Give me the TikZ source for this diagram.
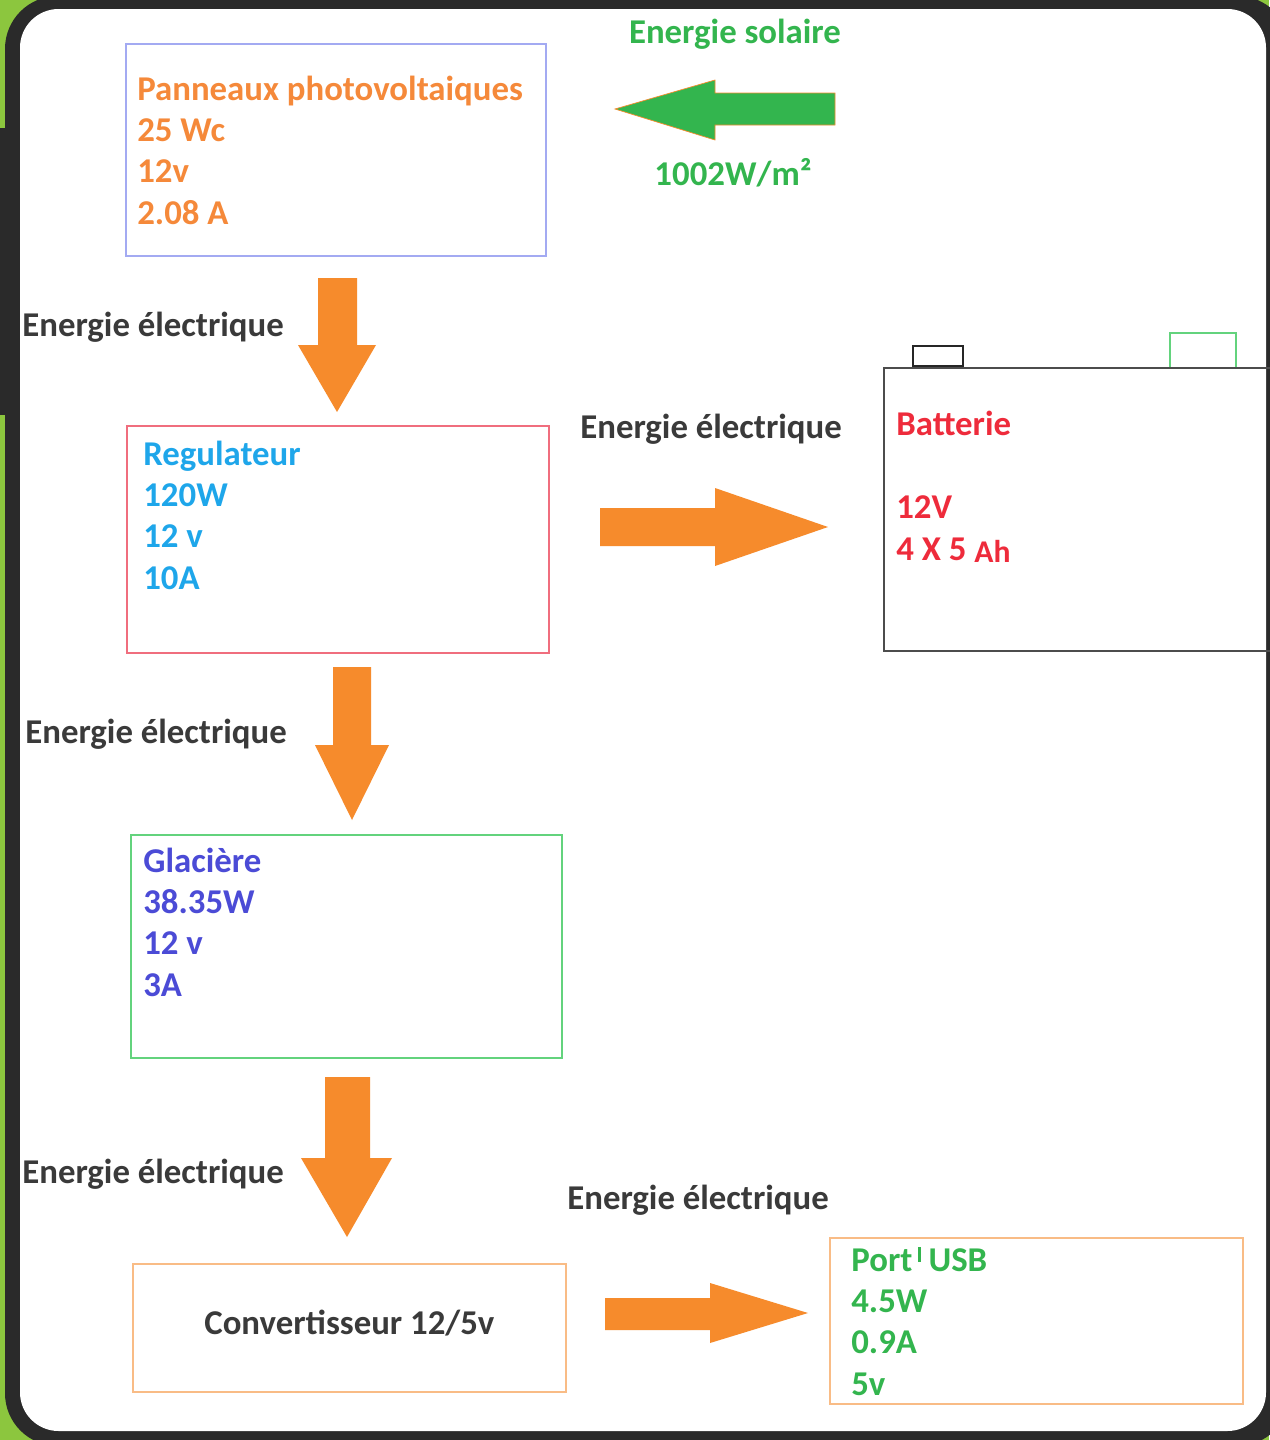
\documentclass[tikz,border=0pt]{standalone}
\usepackage{fontspec}
\setmainfont{Carlito}
\definecolor{fond}{HTML}{8CC63E}
\definecolor{cadre}{HTML}{2A2A2A}
\definecolor{solvert}{HTML}{33B54E}
\definecolor{flecheorange}{HTML}{F68B2C}
\definecolor{txtorange}{HTML}{F5893A}
\definecolor{txtcyan}{HTML}{1EA6EA}
\definecolor{txtbleu}{HTML}{4B4BD6}
\definecolor{txtrouge}{HTML}{EE2B3B}
\definecolor{txtgris}{HTML}{3A3A3A}
\definecolor{bordlavande}{HTML}{A3AAF2}
\definecolor{bordrose}{HTML}{F06E7E}
\definecolor{bordvert}{HTML}{63D37D}
\definecolor{bordorange}{HTML}{F9BC86}
\tikzset{
  boite/.style={draw, line width=1.1pt, rectangle, anchor=north west, inner sep=0pt},
  texte/.style={font=\fontsize{19.8}{23.4}\selectfont\bfseries, inner sep=0pt, align=left, anchor=base west},
  energie/.style={texte, text=txtgris},
  fleche/.style={fill=flecheorange, draw=none}
}
\begin{document}
\begin{tikzpicture}[x=0.02cm, y=-0.02cm]
  \useasboundingbox (0,0) rectangle (1269,1440);
  % 1. cadre de fond
  \fill[fond] (0,0) rectangle (1269,1440);
  \fill[cadre] (0,128) rectangle (6,415);
  \fill[cadre, rounded corners=30pt] (5,-4) rectangle (1290,1446);
  \fill[white, rounded corners=22pt] (20,9) rectangle (1266,1431);

  % 2. panneaux + energie solaire (base = derniere ligne)
  \node[boite, draw=bordlavande, minimum width=8.4cm, minimum height=4.24cm] (panneaux) at (125,43) {};
  \node[texte, text=txtorange] (txtpanneaux) at (137,224) {Panneaux photovoltaiques\\25 Wc\\12v\\2.08 A};
  \node[texte, text=solvert, anchor=base] (solaire) at (735,43) {Energie solaire};
  \fill[solvert, draw=flecheorange, line width=0.4pt] (835,93) -- (715,93) -- (715,80) -- (615,109) -- (715,140) -- (715,125) -- (835,125) -- cycle;
  \node[texte, text=solvert, anchor=base] (irradiance) at (733,185) {1002W/m²};

  % 3. regulateur
  \fill[fleche] (318,278) -- (357,278) -- (357,345) -- (376,345) -- (337,412) -- (298,345) -- (318,345) -- cycle;
  \node[energie] (e1) at (22,336) {Energie électrique};
  \node[boite, draw=bordrose, minimum width=8.44cm, minimum height=4.54cm] (regulateur) at (126,425) {};
  \node[texte, text=txtcyan] (txtregulateur) at (143,589) {Regulateur\\120W\\12 v\\10A};

  % 4. batterie
  \node[energie] (e2) at (580,438) {Energie électrique};
  \fill[fleche] (600,508) -- (715,508) -- (715,488) -- (828,527) -- (715,566) -- (715,546) -- (600,546) -- cycle;
  \node[boite, draw=black!70, minimum width=8.4cm, minimum height=5.66cm] (batterie) at (883,367) {};
  \draw[black!85, line width=1.1pt] (913,366) rectangle (963,346);
  \draw[bordvert, line width=1.1pt] (1170,367) -- (1170,333) -- (1236,333) -- (1236,367);
  \node[texte, text=txtrouge] (txtbatterie) at (896,435) {Batterie};
  \node[texte, text=txtrouge] (tension) at (896,518) {12V};
  \node[texte, text=txtrouge] (capacite) at (896,560) {4 X 5 {\fontsize{18}{20}\selectfont\raisebox{-1.5pt}{Ah}}};

  % 5. glaciere
  \fill[fleche] (333,667) -- (371,667) -- (371,745) -- (389,745) -- (352,820) -- (315,745) -- (333,745) -- cycle;
  \node[energie] (e3) at (25,743) {Energie électrique};
  \node[boite, draw=bordvert, minimum width=8.62cm, minimum height=4.46cm] (glaciere) at (130,834) {};
  \node[texte, text=txtbleu] (txtglaciere) at (143,996) {Glacière\\38.35W\\12 v\\3A};

  % 6. convertisseur + port USB
  \fill[fleche] (325,1077) -- (370,1077) -- (370,1158) -- (392,1158) -- (347,1237) -- (301,1158) -- (325,1158) -- cycle;
  \node[energie] (e4) at (22,1183) {Energie électrique};
  \node[energie] (e5) at (567,1209) {Energie électrique};
  \node[boite, draw=bordorange, minimum width=8.66cm, minimum height=2.56cm] (convertisseur) at (132,1263) {};
  \node[texte, text=txtgris, anchor=center, yshift=3pt] (txtconvertisseur) at (convertisseur.center) {Convertisseur 12/5v};
  \fill[fleche] (605,1298) -- (710,1298) -- (710,1283) -- (808,1313) -- (710,1343) -- (710,1330) -- (605,1330) -- cycle;
  \node[boite, draw=bordorange, minimum width=8.26cm, minimum height=3.32cm] (usb) at (829,1237) {};
  \node[texte, text=solvert] (txtusb) at (851,1395) {Port\,\rule[0.28em]{0.07em}{0.42em}\ USB\\4.5W\\0.9A\\5v};
\end{tikzpicture}
\end{document}
